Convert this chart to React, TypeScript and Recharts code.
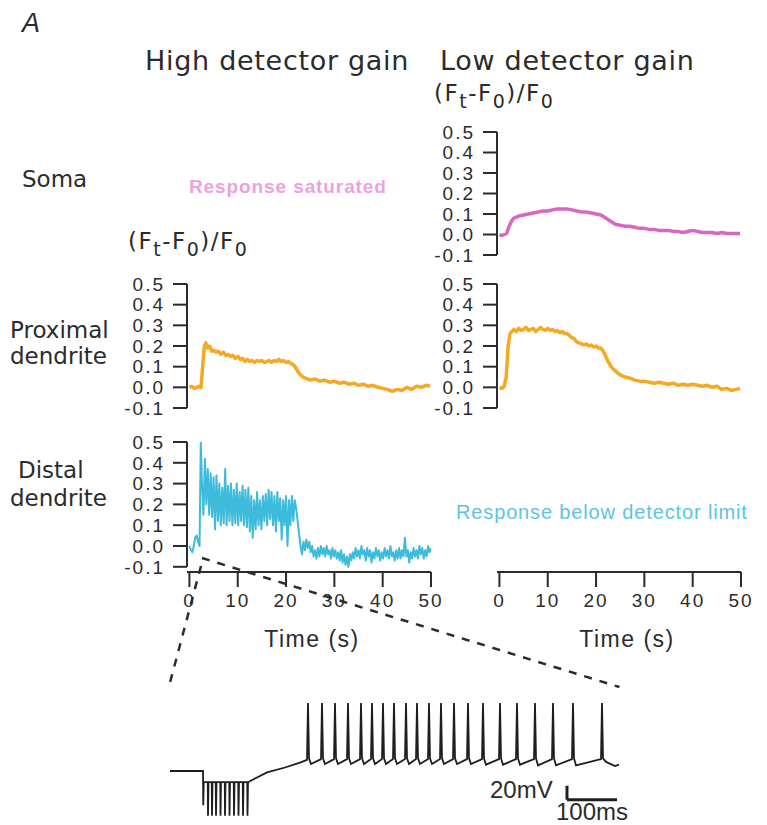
import { LineChart, Line, XAxis, YAxis, ReferenceLine } from "recharts";

// time (s), (Ft-F0)/F0
const somaLow: [number, number][] = [
  [0, 0], [0.5, -0.005], [1, 0], [1.5, 0.005], [2, 0.04], [2.5, 0.065], [3, 0.08], [3.5, 0.085],
  [4, 0.09], [5, 0.095], [6, 0.1], [7, 0.105], [8, 0.11], [9, 0.115], [10, 0.115], [11, 0.12],
  [12, 0.125], [13, 0.125], [14, 0.125], [15, 0.12], [16, 0.115], [17, 0.11], [18, 0.11],
  [19, 0.105], [20, 0.1], [21, 0.095], [22, 0.08], [23, 0.065], [24, 0.05], [25, 0.045],
  [26, 0.04], [27, 0.04], [28, 0.035], [29, 0.03], [30, 0.03], [31, 0.025], [32, 0.025],
  [33, 0.02], [34, 0.02], [35, 0.02], [36, 0.015], [37, 0.015], [38, 0.01], [39, 0.015],
  [40, 0.02], [41, 0.015], [42, 0.01], [43, 0.01], [44, 0.01], [45, 0.005], [46, 0.01],
  [47, 0.005], [48, 0.005], [49, 0.005], [49.8, 0.005],
];

const proximalHigh: [number, number][] = [
  [0, 0], [0.5, 0.005], [1, -0.005], [1.5, 0], [2, 0.005], [2.4, 0], [2.8, 0.12], [3.1, 0.2],
  [3.4, 0.215], [3.8, 0.19], [4.2, 0.2], [4.6, 0.175], [5, 0.18], [5.5, 0.17], [6, 0.175],
  [6.5, 0.16], [7, 0.17], [7.5, 0.155], [8, 0.16], [8.5, 0.15], [9, 0.155], [9.5, 0.14],
  [10, 0.15], [10.5, 0.135], [11, 0.14], [11.5, 0.125], [12, 0.135], [12.5, 0.125], [13, 0.13],
  [13.5, 0.12], [14, 0.13], [14.5, 0.125], [15, 0.13], [15.5, 0.12], [16, 0.125], [16.5, 0.13],
  [17, 0.12], [17.5, 0.13], [18, 0.125], [18.5, 0.135], [19, 0.125], [19.5, 0.13], [20, 0.12],
  [20.5, 0.125], [21, 0.115], [21.5, 0.11], [22, 0.095], [22.5, 0.075], [23, 0.06], [23.5, 0.05],
  [24, 0.045], [25, 0.035], [26, 0.04], [27, 0.03], [28, 0.035], [29, 0.025], [30, 0.03],
  [31, 0.02], [32, 0.025], [33, 0.015], [34, 0.02], [35, 0.01], [36, 0.015], [37, 0.005],
  [38, 0.01], [39, 0], [40, -0.005], [41, -0.01], [42, -0.02], [43, -0.01], [44, -0.015],
  [45, 0], [46, -0.01], [47, 0.005], [48, 0], [49, 0.01], [49.8, 0.005],
];

const proximalLow: [number, number][] = [
  [0, 0], [0.5, -0.005], [1, 0.005], [1.4, 0.05], [1.8, 0.2], [2.2, 0.26], [2.6, 0.27], [3, 0.28],
  [3.5, 0.27], [4, 0.285], [4.5, 0.275], [5, 0.28], [5.5, 0.29], [6, 0.275], [6.5, 0.28],
  [7, 0.285], [7.5, 0.27], [8, 0.28], [8.5, 0.29], [9, 0.28], [9.5, 0.275], [10, 0.285],
  [10.5, 0.275], [11, 0.28], [11.5, 0.27], [12, 0.275], [12.5, 0.265], [13, 0.27], [13.5, 0.26],
  [14, 0.26], [14.5, 0.25], [15, 0.24], [15.5, 0.235], [16, 0.22], [16.5, 0.215], [17, 0.21],
  [17.5, 0.205], [18, 0.21], [18.5, 0.2], [19, 0.205], [19.5, 0.195], [20, 0.2], [20.5, 0.19],
  [21, 0.19], [21.5, 0.175], [22, 0.15], [22.5, 0.125], [23, 0.105], [23.5, 0.09], [24, 0.08],
  [24.5, 0.07], [25, 0.06], [26, 0.05], [27, 0.045], [28, 0.035], [29, 0.03], [30, 0.03],
  [31, 0.025], [32, 0.02], [33, 0.025], [34, 0.02], [35, 0.015], [36, 0.02], [37, 0.01],
  [38, 0.015], [39, 0.01], [40, 0.015], [41, 0.01], [42, 0.005], [43, 0.01], [44, 0],
  [45, 0.005], [46, -0.01], [47, -0.005], [48, -0.015], [49, -0.01], [49.8, -0.005],
];

const distalHigh: [number, number][] = [
  [0, 0], [0.3, -0.02], [0.6, -0.03], [0.9, 0], [1.2, 0.04], [1.5, 0.05], [1.8, 0.02], [2.1, 0],
  [2.35, 0.5], [2.6, 0.3], [2.9, 0.15], [3.2, 0.42], [3.5, 0.2], [3.8, 0.37], [4.1, 0.15],
  [4.4, 0.35], [4.7, 0.14], [5.0, 0.33], [5.3, 0.08], [5.6, 0.34], [5.9, 0.12], [6.2, 0.3],
  [6.5, 0.1], [6.8, 0.28], [7.1, 0.11], [7.4, 0.37], [7.7, 0.1], [8.0, 0.29], [8.3, 0.12],
  [8.6, 0.3], [8.9, 0.1], [9.2, 0.27], [9.5, 0.11], [9.8, 0.3], [10.1, 0.1], [10.4, 0.26],
  [10.7, 0.12], [11.0, 0.29], [11.3, 0.1], [11.6, 0.27], [11.9, 0.09], [12.2, 0.28], [12.5, 0.07],
  [12.8, 0.24], [13.1, 0.04], [13.4, 0.22], [13.7, 0.08], [14.0, 0.26], [14.3, 0.1], [14.6, 0.22],
  [14.9, 0.08], [15.2, 0.24], [15.5, 0.12], [15.8, 0.25], [16.1, 0.1], [16.4, 0.27], [16.7, 0.13],
  [17.0, 0.26], [17.3, 0.1], [17.6, 0.24], [17.9, 0.07], [18.2, 0.26], [18.5, 0.12], [18.8, 0.23],
  [19.1, 0.03], [19.4, 0.22], [19.7, 0.1], [20.0, 0.24], [20.3, 0], [20.6, 0.22], [20.9, 0.1],
  [21.2, 0.24], [21.5, 0.12], [21.8, 0.22], [22.1, 0.18], [22.4, 0.12], [22.7, 0.06], [23.0, 0],
  [23.3, -0.04], [23.6, 0.02], [23.9, -0.02], [24.2, 0.03], [24.5, -0.01], [24.8, 0.02],
  [25.1, -0.03], [25.4, 0], [25.7, -0.05], [26.0, -0.02], [26.3, -0.06], [26.6, -0.01],
  [26.9, -0.05], [27.2, 0], [27.5, -0.04], [27.8, -0.01], [28.1, -0.05], [28.4, 0], [28.7, -0.04],
  [29.0, -0.02], [29.3, -0.06], [29.6, -0.01], [29.9, -0.05], [30.2, -0.02], [30.5, -0.06],
  [30.8, -0.03], [31.1, -0.07], [31.4, -0.02], [31.7, -0.08], [32.0, -0.04], [32.3, -0.09],
  [32.6, -0.05], [32.9, -0.1], [33.2, -0.04], [33.5, -0.07], [33.8, -0.03], [34.1, -0.06],
  [34.4, -0.01], [34.7, -0.05], [35.0, -0.02], [35.3, -0.06], [35.6, 0], [35.9, -0.04],
  [36.2, -0.02], [36.5, -0.07], [36.8, -0.01], [37.1, -0.05], [37.4, -0.02], [37.7, -0.08],
  [38.0, -0.03], [38.3, -0.06], [38.6, -0.01], [38.9, -0.05], [39.2, -0.02], [39.5, -0.07],
  [39.8, -0.03], [40.1, -0.06], [40.4, -0.01], [40.7, -0.05], [41.0, -0.02], [41.3, -0.06],
  [41.6, 0], [41.9, -0.05], [42.2, -0.03], [42.5, -0.07], [42.8, -0.02], [43.1, -0.06],
  [43.4, -0.01], [43.7, -0.06], [44.0, -0.02], [44.3, -0.05], [44.6, 0.04], [44.9, -0.05],
  [45.2, -0.02], [45.5, -0.08], [45.8, -0.03], [46.1, -0.06], [46.4, -0.01], [46.7, -0.05],
  [47.0, -0.02], [47.3, -0.06], [47.6, 0], [47.9, -0.04], [48.2, -0.01], [48.5, -0.06],
  [48.8, -0.02], [49.1, -0.05], [49.4, 0], [49.7, -0.03], [50, -0.01],
];

// membrane potential: time (ms), mV
const apTrace: [number, number][] = [
  [0, -65], [66, -65], [66.5, -114], [67.5, -81],
  [75.5, -81], [76, -129], [77, -81], [83.5, -81], [84, -129], [85, -81],
  [91.5, -81], [92, -129], [93, -81], [100.5, -81], [101, -129], [102, -81],
  [109.5, -81], [110, -129], [111, -81], [118.5, -81], [119, -129], [120, -81],
  [127.5, -81], [128, -129], [129, -81], [136.5, -81], [137, -129], [138, -81],
  [145.5, -81], [146, -129], [147, -81], [154.5, -81], [155, -129], [156, -81],
  [175, -74], [194, -67], [230, -60], [260, -53], [274, -49],
  [276, 32], [278, -47], [282, -55],
  [302, -48], [304, 32], [306, -47], [310, -55],
  [328, -48], [330, 32], [332, -47], [336, -55],
  [354, -48], [356, 32], [358, -47], [362, -55],
  [380, -48], [382, 32], [384, -47], [388, -55],
  [402, -48], [404, 32], [406, -47], [410, -55],
  [424, -48], [426, 32], [428, -47], [432, -55],
  [446, -48], [448, 32], [450, -47], [454, -55],
  [470, -48], [472, 32], [474, -47], [478, -55],
  [492, -48], [494, 32], [496, -47], [500, -55],
  [516, -48], [518, 32], [520, -47], [524, -55],
  [540, -48], [542, 32], [544, -47], [548, -55],
  [566, -48], [568, 32], [570, -47], [574, -55],
  [594, -48], [596, 32], [598, -47], [602, -55],
  [624, -48], [626, 32], [628, -47], [632, -56],
  [658, -48], [660, 32], [662, -47], [666, -56],
  [692, -48], [694, 32], [696, -47], [700, -56],
  [728, -48], [730, 32], [732, -47], [736, -57],
  [764, -48], [766, 32], [768, -47], [772, -57],
  [804, -48], [806, 32], [808, -47], [812, -57],
  [862, -48], [864, 32], [866, -47], [872, -52], [890, -58], [898, -56],
];

// zoom connector lines, in distal-panel coordinates (s, dF/F)
const zoomConnectors: { x: number; y: number }[][] = [
  [{ x: 2.4, y: -0.096 }, { x: -4.4, y: -0.69 }],
  [{ x: 2.6, y: -0.058 }, { x: 89, y: -0.678 }],
];

// scale bar: 100 ms x 20 mV
const scaleBar: { x: number; y: number }[][] = [
  [{ x: 794, y: -106 }, { x: 794, y: -86 }],
  [{ x: 794, y: -106 }, { x: 894, y: -106 }],
];

const yTicks = [-0.1, 0, 0.1, 0.2, 0.3, 0.4, 0.5];
const xTicks = [0, 10, 20, 30, 40, 50];

const ORANGE = "#f7a823";
const PINK = "#d866c2";
const CYAN = "#3dbbdb";
const INK = "#2b2b2b";
const TICK_FONT = "'Liberation Sans', Arial, sans-serif";
const LABEL_FONT = "'DejaVu Sans', Verdana, sans-serif";

const toRows = (pts: [number, number][]) => pts.map(([t, v]) => ({ t, v }));

const tickStyle = { fontSize: 19, fill: INK, fontFamily: TICK_FONT, letterSpacing: 2 };
const axisStroke = { stroke: INK, strokeWidth: 2 };

function Panel({
  left,
  top,
  plotH,
  data,
  color,
  width,
}: {
  left: number;
  top: number;
  plotH: number;
  data: [number, number][];
  color: string;
  width: number;
}) {
  return (
    <div style={{ position: "absolute", left, top }}>
      <LineChart width={445} height={plotH + 24} margin={{ top: 12, right: 14, bottom: 12, left: 0 }}>
        <XAxis type="number" dataKey="t" domain={[-0.5, 50]} allowDataOverflow hide />
        <YAxis
          type="number"
          domain={[-0.1, 0.5]}
          allowDataOverflow
          ticks={yTicks}
          interval={0}
          width={187}
          tickSize={14}
          tickMargin={8}
          tick={tickStyle}
          tickLine={axisStroke}
          axisLine={axisStroke}
          tickFormatter={(v: number) => v.toFixed(1)}
        />
        <Line
          data={toRows(data)}
          dataKey="v"
          type="linear"
          dot={false}
          stroke={color}
          strokeWidth={width}
          strokeLinejoin="round"
          isAnimationActive={false}
        />
      </LineChart>
    </div>
  );
}

export default function App() {
  return (
    <div style={{ position: "absolute", left: 0, top: 0, width: 767, height: 825, background: "#fff" }}>
      <Panel left={310} top={120} plotH={123} data={somaLow} color={PINK} width={3.5} />
      <Panel left={0} top={272} plotH={124} data={proximalHigh} color={ORANGE} width={3.5} />
      <Panel left={310} top={272} plotH={124} data={proximalLow} color={ORANGE} width={3.5} />

      {/* distal dendrite, high gain, with time axis and zoom connectors */}
      <div style={{ position: "absolute", left: 0, top: 430 }}>
        <LineChart width={640} height={275} margin={{ top: 12, right: 209, bottom: 93, left: 0 }}>
          <XAxis
            type="number"
            dataKey="t"
            domain={[-0.5, 50]}
            allowDataOverflow
            ticks={xTicks}
            interval={0}
            height={40}
            tickSize={15}
            tickMargin={7}
            tick={tickStyle}
            tickLine={axisStroke}
            axisLine={axisStroke}
          />
          <YAxis
            type="number"
            domain={[-0.125, 0.5]}
            allowDataOverflow
            ticks={yTicks}
            interval={0}
            width={187}
            tickSize={14}
            tickMargin={8}
            tick={tickStyle}
            tickLine={axisStroke}
            axisLine={false}
            tickFormatter={(v: number) => v.toFixed(1)}
          />
          <ReferenceLine
            segment={[{ x: -0.5, y: -0.1 }, { x: -0.5, y: 0.5 }]}
            stroke={INK}
            strokeWidth={2}
            ifOverflow="visible"
          />
          <Line
            data={toRows(distalHigh)}
            dataKey="v"
            type="linear"
            dot={false}
            stroke={CYAN}
            strokeWidth={2}
            strokeLinejoin="round"
            isAnimationActive={false}
          />
          {zoomConnectors.map((seg, i) => (
            <ReferenceLine
              key={i}
              segment={seg}
              stroke={INK}
              strokeWidth={2.5}
              strokeDasharray="8 8"
              ifOverflow="visible"
            />
          ))}
        </LineChart>
      </div>

      {/* low gain time axis (no distal response) */}
      <div style={{ position: "absolute", left: 310, top: 430 }}>
        <LineChart width={445} height={275} margin={{ top: 12, right: 14, bottom: 93, left: 187 }}>
          <XAxis
            type="number"
            dataKey="t"
            domain={[-0.5, 50]}
            allowDataOverflow
            ticks={xTicks}
            interval={0}
            height={40}
            tickSize={15}
            tickMargin={7}
            tick={tickStyle}
            tickLine={axisStroke}
            axisLine={axisStroke}
          />
          <YAxis type="number" domain={[-0.125, 0.5]} allowDataOverflow hide />
          <Line data={[]} dataKey="v" dot={false} isAnimationActive={false} />
        </LineChart>
      </div>

      {/* membrane potential inset */}
      <div style={{ position: "absolute", left: 170, top: 691 }}>
        <LineChart width={460} height={134} margin={{ top: 10, right: 10, bottom: 5, left: 0 }}>
          <XAxis type="number" dataKey="t" domain={[0, 900]} allowDataOverflow hide />
          <YAxis type="number" domain={[-135, 35]} allowDataOverflow hide />
          <Line
            data={toRows(apTrace)}
            dataKey="v"
            type="linear"
            dot={false}
            stroke="#1e1e1e"
            strokeWidth={1.8}
            isAnimationActive={false}
          />
          {scaleBar.map((seg, i) => (
            <ReferenceLine key={i} segment={seg} stroke="#1e1e1e" strokeWidth={3} ifOverflow="visible" />
          ))}
        </LineChart>
      </div>

      <svg
        width={767}
        height={825}
        style={{ position: "absolute", left: 0, top: 0, pointerEvents: "none" }}
      >
        <text x={22} y={32} fontSize={27} fontStyle="italic" fontFamily={TICK_FONT} fill={INK}>
          A
        </text>
        <g fontFamily={LABEL_FONT} fill={INK} fontSize={27} letterSpacing={0.7}>
          <text x={145} y={70}>High detector gain</text>
          <text x={440} y={70}>Low detector gain</text>
        </g>
        <g fontFamily={LABEL_FONT} fill={INK} fontSize={23}>
          <text x={22} y={187}>Soma</text>
          <text x={10} y={338}>Proximal</text>
          <text x={10} y={364}>dendrite</text>
          <text x={18} y={478}>Distal</text>
          <text x={10} y={506}>dendrite</text>
        </g>
        <g fontFamily={LABEL_FONT} fill={INK} fontSize={23} letterSpacing={1.5}>
          <text x={128} y={249}>
            (F<tspan fontSize={19} dy={7}>t</tspan>
            <tspan fontSize={23} dy={-7}>-F</tspan>
            <tspan fontSize={19} dy={7}>0</tspan>
            <tspan fontSize={23} dy={-7}>)/F</tspan>
            <tspan fontSize={19} dy={7}>0</tspan>
          </text>
          <text x={434} y={101}>
            (F<tspan fontSize={19} dy={7}>t</tspan>
            <tspan fontSize={23} dy={-7}>-F</tspan>
            <tspan fontSize={19} dy={7}>0</tspan>
            <tspan fontSize={23} dy={-7}>)/F</tspan>
            <tspan fontSize={19} dy={7}>0</tspan>
          </text>
        </g>
        <text
          x={189}
          y={193}
          fontFamily={TICK_FONT}
          fontSize={19}
          fontWeight="bold"
          letterSpacing={0.9}
          fill="#eba2de"
        >
          Response saturated
        </text>
        <text x={456} y={519} fontFamily={TICK_FONT} fontSize={20} letterSpacing={0.86} fill="#5cc3e6">
          Response below detector limit
        </text>
        <g fontFamily={TICK_FONT} fill={INK} fontSize={23} letterSpacing={1.5} textAnchor="middle">
          <text x={312} y={647}>Time (s)</text>
          <text x={627} y={647}>Time (s)</text>
        </g>
        <g fontFamily={TICK_FONT} fill={INK} fontSize={24}>
          <text x={490} y={798}>20mV</text>
          <text x={556} y={820}>100ms</text>
        </g>
      </svg>
    </div>
  );
}
